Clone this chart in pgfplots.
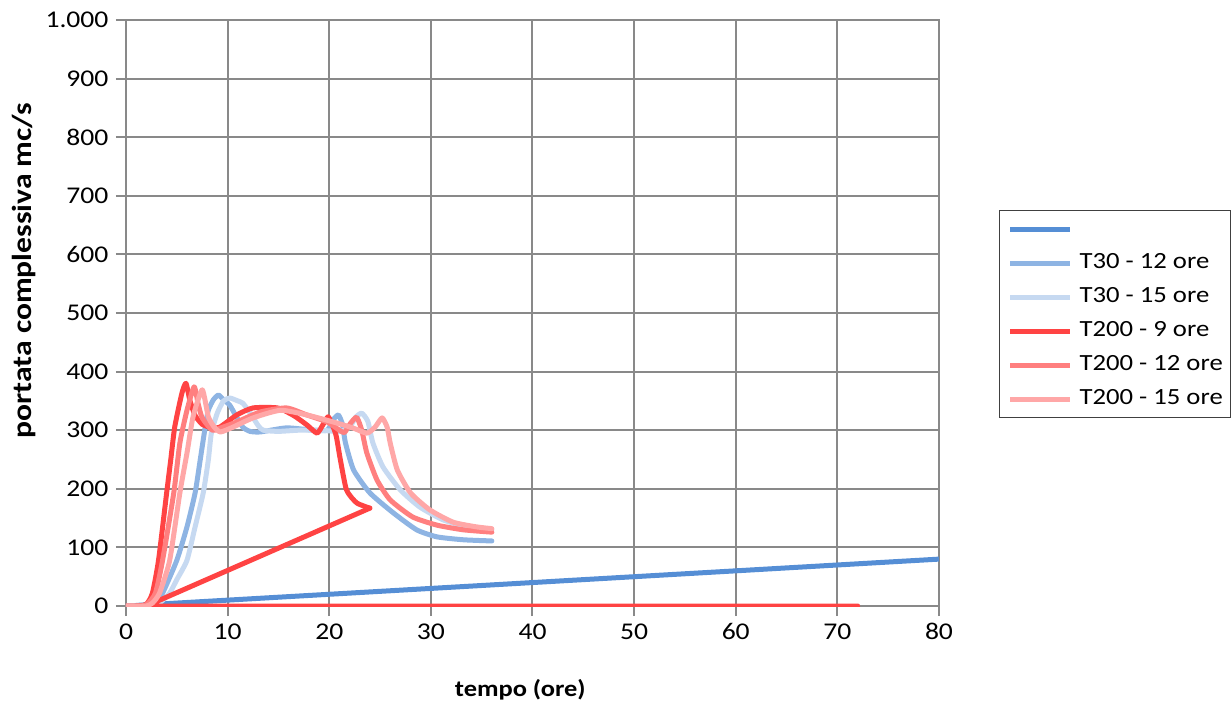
\documentclass[border=0pt]{standalone}
\usepackage{pgfplots}
\pgfplotsset{compat=1.18}
\usepackage{fontspec}
\setmainfont{Carlito}[FakeStretch=1.15]
\definecolor{cA}{HTML}{558ED5}
\definecolor{cB}{HTML}{8EB4E3}
\definecolor{cC}{HTML}{C6D9F1}
\definecolor{cD}{HTML}{FF4343}
\definecolor{cE}{HTML}{FF7F7F}
\definecolor{cF}{HTML}{FFA7A7}
\definecolor{gridc}{HTML}{898989}
\begin{document}
\begin{tikzpicture}
\useasboundingbox (-126pt,-98pt) rectangle (1106pt,606pt);
\begin{axis}[
  at={(0pt,0pt)}, anchor=south west,
  scale only axis, width=813pt, height=586pt,
  xmin=0, xmax=80, ymin=0, ymax=1000,
  xtick distance=10, ytick distance=100,
  grid=major,
  major grid style={draw=gridc, line width=2pt},
  axis line style={draw=gridc, line width=2pt},
  tick style={draw=gridc, line width=2pt},
  tick align=outside, tick pos=left, major tick length=10pt,
  /pgf/number format/assume math mode=true,
  /pgf/number format/1000 sep={.},
  ticklabel style={font=\fontsize{24}{28}\selectfont},
  yticklabel style={xshift=-4pt},
  xticklabel style={yshift=-4pt},
  xlabel={tempo (ore)},
  ylabel={portata complessiva mc/s},
  xlabel style={font=\bfseries\fontsize{23}{28}\selectfont, at={(rel axis cs:0.485,0)}, anchor=center, yshift=-84pt},
  ylabel style={font=\bfseries\fontsize{27.5}{30}\selectfont, at={(rel axis cs:0,0.572)}, anchor=center, yshift=102pt},
  every axis plot/.append style={line width=5pt, line join=round, line cap=round},
  legend cell align=left,
  legend image code/.code={\draw[#1, line cap=butt] (0pt,0pt) -- (60pt,0pt);},
  legend style={at={(rel axis cs:1.0738,0.6758)}, anchor=north west,
    draw=black!75, line width=1.2pt, font=\fontsize{23.2}{28}\selectfont,
    inner xsep=8pt, inner ysep=7pt, row sep=11pt,
    nodes={inner sep=0pt, text height=17pt, text depth=6pt},
    /tikz/every odd column/.append style={column sep=7pt}},
]
\addplot[cA] coordinates {(1,1) (80,80)};
\addlegendentry{}
\addplot[cB, smooth, tension=0.35] coordinates {(0,0) (1,0) (2,0) (2.8,5) (3.6,22) (5,78) (6,135) (6.8,193) (7.3,249) (7.8,306) (8.1,334) (8.6,352) (9.1,360) (9.6,352) (10.2,343) (10.8,325) (11.5,305) (12.2,298) (13.2,297) (15.8,304) (18.4,300) (19.8,300) (20.4,318) (20.9,326) (21.3,310) (21.6,278) (22.4,232) (24,193) (26.3,159) (28.6,130) (30.6,118) (33.2,113) (36,111)};
\addlegendentry{T30 - 12 ore}
\addplot[cC, smooth, tension=0.35] coordinates {(0,0) (1,0) (2,0) (3,3) (3.5,8) (4.3,22) (5,45) (6,78) (6.8,135) (7.6,193) (8.1,249) (8.4,295) (9,330) (9.6,350) (10.2,355) (11,350) (11.5,346) (12.2,330) (13,308) (13.5,300) (15,298) (17,300) (19,300) (21,298) (22,305) (22.6,322) (23.2,329) (23.8,315) (24.3,278) (25.3,237) (27,198) (28.9,169) (31.2,147) (33.6,135) (36,130)};
\addlegendentry{T30 - 15 ore}
\addplot[cD, smooth, tension=0.35] coordinates {(0,0) (1,0) (2,3) (2.6,22) (3.2,78) (4,193) (4.4,249) (4.8,306) (5.5,363) (5.9,380) (6.3,350) (6.8,325) (7.5,310) (8.3,305) (9.2,305) (10.9,326) (12.5,338) (14.9,338) (16.5,325) (17.8,309) (18.8,295) (19.4,310) (19.9,323) (20.4,305) (20.7,289) (21.1,249) (21.7,198) (22.7,176) (24,167)};
\addlegendentry{T200 - 9 ore}
\addplot[cD, forget plot] coordinates {(24,167) (2,0) (72,0)};
\addplot[cE, smooth, tension=0.35] coordinates {(0,0) (1,0) (2,2) (2.9,22) (3.6,78) (4.7,193) (5.3,278) (6,334) (6.7,374) (7.1,345) (7.5,321) (8.5,300) (9.5,305) (10.9,314) (13.2,331) (15.8,338) (17.8,326) (19.8,314) (21,300) (21.5,296) (22.1,312) (22.7,322) (23.2,300) (23.7,261) (24.7,215) (26,181) (28.2,152) (30.6,138) (33.2,130) (36,126)};
\addlegendentry{T200 - 12 ore}
\addplot[cF, smooth, tension=0.35] coordinates {(0,0) (1,0) (2,0) (2.6,5) (3.3,22) (4.3,78) (5.3,193) (6,261) (6.6,323) (7.5,369) (8.1,323) (8.7,305) (9.3,297) (10.5,305) (12.5,321) (15.2,334) (17.8,326) (20.4,314) (22.3,304) (23.7,295) (24.5,305) (25.2,321) (25.7,305) (26,278) (26.7,232) (28,193) (29.9,164) (32.2,143) (34.5,135) (36,132)};
\addlegendentry{T200 - 15 ore}
\end{axis}
\end{tikzpicture}
\end{document}
